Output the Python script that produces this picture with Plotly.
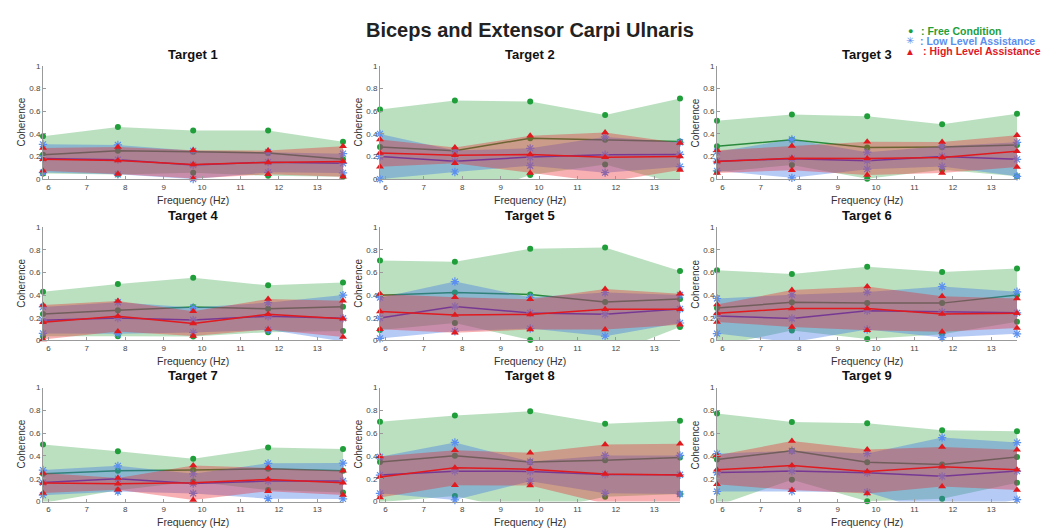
import plotly.graph_objects as go

freq = [5.86, 7.81, 9.77, 11.72, 13.67]
targets = ["Target 1", "Target 2", "Target 3", "Target 4", "Target 5",
           "Target 6", "Target 7", "Target 8", "Target 9"]
x_ticks = [6, 7, 8, 9, 10, 11, 12, 13]
y_ticks = [0, 0.2, 0.4, 0.6, 0.8, 1]
y_tick_labels = ["0", "0.2", "0.4", "0.6", "0.8", "1"]

free_mean = [
    [0.215, 0.25, 0.243, 0.23, 0.175],
    [0.285, 0.25, 0.362, 0.348, 0.333],
    [0.29, 0.348, 0.279, 0.284, 0.302],
    [0.233, 0.267, 0.294, 0.279, 0.297],
    [0.398, 0.424, 0.406, 0.34, 0.366],
    [0.285, 0.337, 0.331, 0.329, 0.4],
    [0.244, 0.27, 0.276, 0.287, 0.27],
    [0.347, 0.401, 0.347, 0.361, 0.387],
    [0.368, 0.445, 0.345, 0.325, 0.391],
]
free_sd = [
    [0.165, 0.21, 0.187, 0.2, 0.155],
    [0.33, 0.445, 0.325, 0.218, 0.38],
    [0.227, 0.224, 0.276, 0.202, 0.276],
    [0.197, 0.231, 0.26, 0.207, 0.215],
    [0.307, 0.27, 0.404, 0.48, 0.248],
    [0.335, 0.25, 0.32, 0.275, 0.235],
    [0.256, 0.172, 0.1, 0.186, 0.19],
    [0.352, 0.353, 0.444, 0.32, 0.322],
    [0.405, 0.253, 0.342, 0.3, 0.226],
]
low_mean = [
    [0.183, 0.172, 0.125, 0.15, 0.14],
    [0.2, 0.158, 0.195, 0.215, 0.218],
    [0.158, 0.181, 0.163, 0.201, 0.175],
    [0.178, 0.197, 0.18, 0.213, 0.195],
    [0.197, 0.3, 0.242, 0.23, 0.277],
    [0.215, 0.193, 0.261, 0.25, 0.243],
    [0.166, 0.2, 0.157, 0.18, 0.18],
    [0.232, 0.266, 0.264, 0.238, 0.235],
    [0.254, 0.267, 0.252, 0.221, 0.267],
]
low_sd = [
    [0.125, 0.13, 0.125, 0.09, 0.085],
    [0.2, 0.095, 0.077, 0.158, 0.108],
    [0.085, 0.17, 0.075, 0.09, 0.15],
    [0.117, 0.14, 0.11, 0.12, 0.205],
    [0.18, 0.22, 0.138, 0.193, 0.124],
    [0.155, 0.21, 0.166, 0.226, 0.186],
    [0.11, 0.113, 0.086, 0.155, 0.157],
    [0.16, 0.252, 0.086, 0.166, 0.169],
    [0.166, 0.178, 0.17, 0.34, 0.25],
]
high_mean = [
    [0.175, 0.165, 0.13, 0.147, 0.155],
    [0.23, 0.21, 0.218, 0.193, 0.2],
    [0.155, 0.185, 0.183, 0.191, 0.247],
    [0.16, 0.212, 0.148, 0.23, 0.19],
    [0.254, 0.224, 0.229, 0.275, 0.275],
    [0.24, 0.281, 0.282, 0.232, 0.239],
    [0.163, 0.155, 0.165, 0.193, 0.164],
    [0.215, 0.296, 0.284, 0.241, 0.232],
    [0.278, 0.315, 0.263, 0.305, 0.278],
]
high_sd = [
    [0.1, 0.12, 0.125, 0.105, 0.135],
    [0.12, 0.07, 0.165, 0.22, 0.12],
    [0.1, 0.107, 0.147, 0.138, 0.14],
    [0.152, 0.135, 0.11, 0.135, 0.16],
    [0.156, 0.156, 0.134, 0.18, 0.137],
    [0.077, 0.163, 0.194, 0.157, 0.13],
    [0.088, 0.052, 0.152, 0.102, 0.107],
    [0.179, 0.154, 0.143, 0.26, 0.275],
    [0.127, 0.215, 0.193, 0.174, 0.176],
]

W, H = 1049, 529
col_px = [(35, 335), (372, 672), (709, 1009)]
row_px = [(55, 170), (219, 334), (382, 498)]

conds = [
    dict(mean=free_mean, sd=free_sd, fill="rgba(40,160,60,0.32)", line="#2a8a3c",
         mcolor="#1f9e3a", symbol="circle", msize=6, mline=0),
    dict(mean=low_mean, sd=low_sd, fill="rgba(60,115,225,0.38)", line="#3a48d0",
         mcolor="#5b8ff0", symbol="asterisk-open", msize=7, mline=1.2),
    dict(mean=high_mean, sd=high_sd, fill="rgba(235,30,35,0.35)", line="#e01a1f",
         mcolor="#e01a1f", symbol="triangle-up", msize=7, mline=0),
]

fig = go.Figure()
layout = dict(width=W, height=H, margin=dict(l=0, r=0, t=0, b=0),
              paper_bgcolor="white", plot_bgcolor="white", showlegend=False,
              font=dict(family="Liberation Sans, Arial, sans-serif"))
annotations = []

for i in range(9):
    r, c = divmod(i, 3)
    sfx = "" if i == 0 else str(i + 1)
    xa, ya = "x" + sfx, "y" + sfx
    x0, x1 = col_px[c]
    yt, yb = row_px[r]
    axcommon = dict(showgrid=False, zeroline=False, showline=True, linecolor="#9a9a9a",
                    linewidth=1, ticks="inside", ticklen=3, tickcolor="#9a9a9a",
                    tickfont=dict(size=8, color="#444"), mirror=False)
    layout["xaxis" + sfx] = dict(axcommon, domain=[x0 / W, x1 / W], anchor=ya,
                                 range=[freq[0], freq[-1]], tickvals=x_ticks)
    layout["yaxis" + sfx] = dict(axcommon, domain=[1 - yb / H, 1 - yt / H], anchor=xa,
                                 range=[0, 1], tickvals=y_ticks, ticktext=y_tick_labels)

    for cd in conds:
        m = cd["mean"][i]
        s = cd["sd"][i]
        up = [a + b for a, b in zip(m, s)]
        lo = [a - b for a, b in zip(m, s)]
        fig.add_trace(go.Scatter(x=freq + freq[::-1], y=up + lo[::-1], fill="toself",
                                 fillcolor=cd["fill"], line=dict(width=0),
                                 mode="lines", hoverinfo="skip", xaxis=xa, yaxis=ya))
        mk = dict(symbol=cd["symbol"], size=cd["msize"], color=cd["mcolor"],
                  line=dict(color=cd["mcolor"], width=cd["mline"]))
        fig.add_trace(go.Scatter(x=freq, y=m, mode="lines+markers",
                                 line=dict(color=cd["line"], width=1.5), marker=mk,
                                 cliponaxis=False, xaxis=xa, yaxis=ya))
        fig.add_trace(go.Scatter(x=freq, y=up, mode="markers", marker=mk,
                                 cliponaxis=False, xaxis=xa, yaxis=ya))
        lo_vis = [v if v >= 0 else None for v in lo]
        fig.add_trace(go.Scatter(x=freq, y=lo_vis, mode="markers", marker=mk,
                                 cliponaxis=False, xaxis=xa, yaxis=ya))

    xc = (x0 + x1) / 2
    annotations.append(dict(text="<b>" + targets[i] + "</b>", x=xc / W, y=1 - (yt - 12) / H,
                            xref="paper", yref="paper", showarrow=False,
                            font=dict(size=13, color="#111"), xanchor="center", yanchor="middle"))
    annotations.append(dict(text="Coherence", x=(x0 - 21) / W, y=1 - (yt + yb) / 2 / H,
                            xref="paper", yref="paper", showarrow=False, textangle=-90,
                            font=dict(size=10, color="#333"), xanchor="center", yanchor="middle"))
    annotations.append(dict(text="Frequency (Hz)", x=xc / W, y=1 - (yb + 21) / H,
                            xref="paper", yref="paper", showarrow=False,
                            font=dict(size=10.5, color="#333"), xanchor="center", yanchor="middle"))

annotations.append(dict(text="<b>Biceps and Extensor Carpi Ulnaris</b>", x=522 / W, y=1 - 18 / H,
                        xref="paper", yref="paper", showarrow=False,
                        font=dict(size=20, color="#222"), xanchor="center", yanchor="middle"))

legend_items = [
    ("●", "<b>: Free Condition</b>", "#1f9e3a", 19, 911, 9),
    ("✳", "<b>: Low Level Assistance</b>", "#5b8ff0", 29.5, 910, 10),
    ("▲", "<b>: High Level Assistance</b>", "#e01a1f", 40, 913, 10),
]
for sym, txt, col, yy, xt, ssize in legend_items:
    annotations.append(dict(text=sym, x=902 / W, y=1 - yy / H, xref="paper", yref="paper",
                            showarrow=False, font=dict(size=ssize, color=col),
                            xanchor="center", yanchor="middle"))
    annotations.append(dict(text=txt, x=xt / W, y=1 - yy / H, xref="paper", yref="paper",
                            showarrow=False, font=dict(size=10.5, color=col),
                            xanchor="left", yanchor="middle"))

layout["annotations"] = annotations
fig.update_layout(**layout)
fig.write_html("out.html")
